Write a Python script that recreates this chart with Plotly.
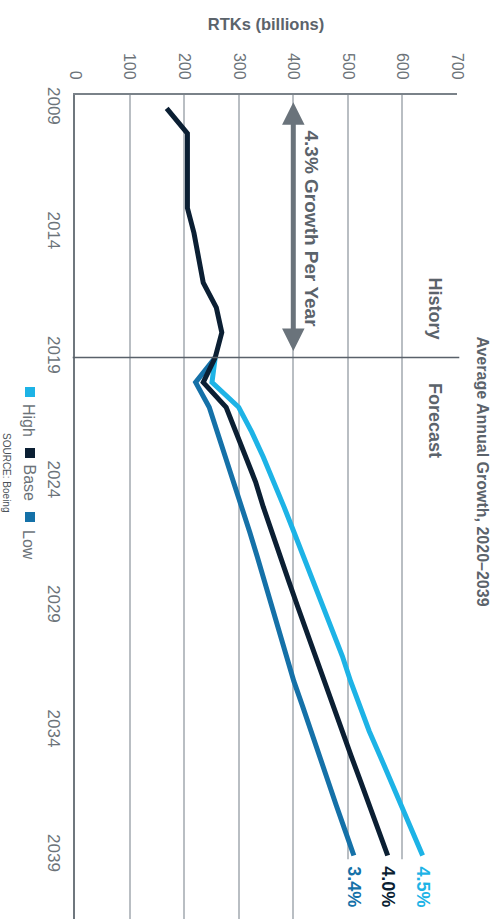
import plotly.graph_objects as go

# ---- data: revenue tonne-kilometres (billions) ----
hist_years = list(range(2009, 2020))
hist_base = [168, 206, 206, 205, 206, 218, 226, 235, 259, 269, 257]

fc_years = list(range(2019, 2040))
fc_high = [257, 251, 300, 324, 345, 365, 383, 401, 419, 437, 455, 473, 490, 505, 521,
           539, 559, 579, 598, 618, 637]
fc_base = [257, 235, 277, 295, 313, 331, 345, 360, 376, 392, 408, 424, 440, 456, 472,
           488, 506, 523, 540, 557, 573]
fc_low = [257, 221, 246, 261, 277, 292, 307, 320, 334, 347, 361, 374, 388, 401, 417,
          432, 448, 464, 479, 495, 511]

growth_labels = {"High": "4.5%", "Base": "4.0%", "Low": "3.4%"}
rtk_ticks = [0, 100, 200, 300, 400, 500, 600, 700]
year_ticks = [2009, 2014, 2019, 2024, 2029, 2034, 2039]

# ---- styling ----
C_HIGH = "#1db3e6"
C_BASE = "#0b1f33"
C_LOW = "#1571a8"
C_TEXT = "#5b636b"
C_TICK = "#6c7379"
C_GRID = "#b9bec3"
C_ARROW = "#6a737b"
FONT = "Liberation Sans, Arial, sans-serif"

W, H = 497, 920
ML, MR, MT, MB = 75, 40, 95, 1
PW, PH = W - ML - MR, H - MT - MB


def fx(px):
    return (px - ML) / PW


def fy(py):
    return 1 - (py - MT) / PH


def rotated_label(px, py, text, size, color):
    return dict(x=fx(px), y=fy(py), xref="paper", yref="paper", text=text,
                textangle=90, showarrow=False, xanchor="center", yanchor="middle",
                font=dict(family=FONT, size=size, color=color))


fig = go.Figure()

series = [("Low", fc_low, C_LOW), ("High", fc_high, C_HIGH), ("Base", fc_base, C_BASE)]
for name, vals, col in series:
    fig.add_trace(go.Scatter(x=vals, y=fc_years, mode="lines", name=name,
                             line=dict(color=col, width=5), showlegend=False))
fig.add_trace(go.Scatter(x=hist_base, y=hist_years, mode="lines", name="History",
                         line=dict(color=C_BASE, width=5), showlegend=False))

shapes = [
    # divider between history and forecast
    dict(type="line", xref="paper", yref="y", x0=-0.006, x1=1.006, y0=2019, y1=2019,
         line=dict(color="#59616a", width=1.5), layer="above"),
    # blank strip under the end-of-line labels
    dict(type="rect", xref="x", yref="y", x0=485, x1=680, y0=2039.15, y1=2041.6,
         fillcolor="white", line=dict(width=0), layer="above"),
]

annotations = []

# growth arrow for the history period
annotations.append(dict(x=400, y=2008.75, ax=400, ay=2018.8, xref="x", yref="y",
                        axref="x", ayref="y", text="", showarrow=True,
                        arrowhead=2, arrowside="end+start", arrowsize=0.9,
                        arrowwidth=5, arrowcolor=C_ARROW))
annotations.append(rotated_label(311, 228.5, "<b>4.3% Growth Per Year</b>", 19, C_TEXT))
annotations.append(rotated_label(435, 308.5, "<b>History</b>", 18, C_TEXT))
annotations.append(rotated_label(435, 420, "<b>Forecast</b>", 18, C_TEXT))
annotations.append(rotated_label(482, 471.5, "<b>Average Annual Growth, 2020–2039</b>",
                                 16, C_TEXT))

# end-of-line growth labels
for name, vals, col in series:
    annotations.append(dict(x=vals[-1], y=fc_years[-1], xref="x", yref="y",
                            text="<b>%s</b>" % growth_labels[name], textangle=90,
                            showarrow=False, xanchor="center", yanchor="top", yshift=-9,
                            font=dict(family=FONT, size=18, color=col)))

# legend, drawn rotated
legend_items = [("High", C_HIGH, 392, 420), ("Base", C_BASE, 453, 482.5), ("Low", C_LOW, 517, 545)]
for name, col, sq_y, txt_y in legend_items:
    shapes.append(dict(type="rect", xref="paper", yref="paper",
                       x0=fx(25), x1=fx(35), y0=fy(sq_y - 5), y1=fy(sq_y + 5),
                       fillcolor=col, line=dict(width=0)))
    annotations.append(rotated_label(29, txt_y, name, 16, C_TICK))

annotations.append(rotated_label(6, 472, "SOURCE: Boeing", 10, "#4b5259"))

fig.update_layout(
    width=W, height=H, autosize=False,
    margin=dict(l=ML, r=MR, t=MT, b=MB),
    paper_bgcolor="white", plot_bgcolor="white",
    shapes=shapes, annotations=annotations,
    xaxis=dict(side="top", range=[0, 700], tickvals=rtk_ticks, tickangle=90,
               showgrid=True, gridcolor=C_GRID, gridwidth=1.5, zeroline=False,
               showline=True, linecolor="#7a8289", linewidth=1.5, ticks="",
               ticklabelstandoff=8,
               tickfont=dict(family=FONT, size=16, color=C_TICK),
               title=dict(text="<b>RTKs (billions)</b>", standoff=18,
                          font=dict(family=FONT, size=16.5, color=C_TEXT))),
    yaxis=dict(range=[2041.55, 2008.46], tickvals=year_ticks, tickangle=90,
               showgrid=False, zeroline=False, showline=True, linecolor="#6f777e",
               linewidth=1.5, ticks="", ticklabelstandoff=5,
               tickfont=dict(family=FONT, size=17, color=C_TICK)),
)

fig.write_html("out.html")
